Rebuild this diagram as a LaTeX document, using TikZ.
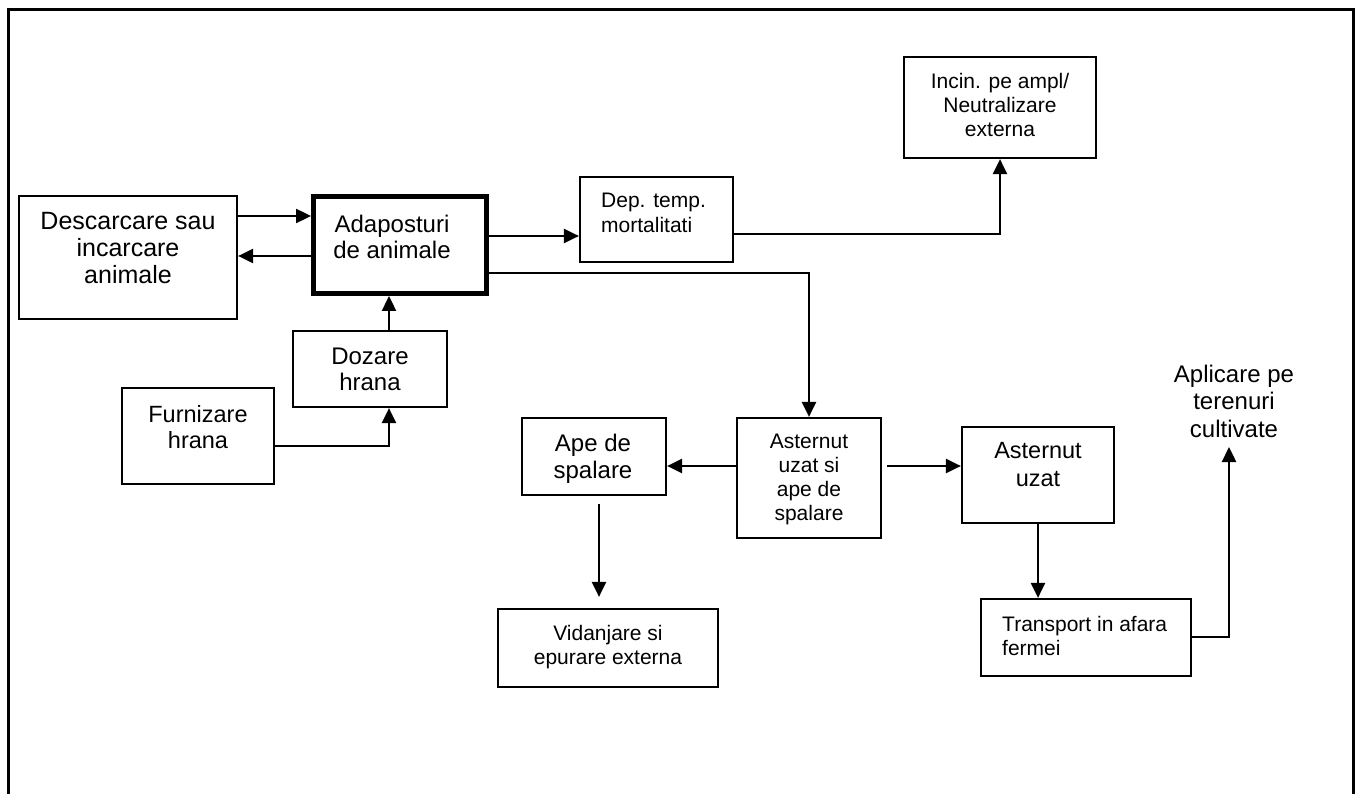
\documentclass[tikz,border=0pt]{standalone}
\usepackage{fontspec}
\setmainfont{Liberation Sans}
\usetikzlibrary{arrows.meta}
\newcommand\fsz[2]{\fontsize{#1}{#2}\selectfont}
\begin{document}
\begin{tikzpicture}[x=1pt,y=-1pt,
  box/.style={draw,line width=2.2pt,inner sep=0pt},
  thickbox/.style={draw,line width=5pt,inner sep=0pt},
  txt/.style={inner sep=0pt,align=center,anchor=base},
  txtl/.style={inner sep=0pt,align=left,anchor=base west},
  arr/.style={line width=2.4pt,-{Triangle[length=15pt,width=14pt]}}]
\useasboundingbox (0,0) rectangle (1358,794);
% frame
\draw[line width=3pt] (8,794) -- (8,10) -- (1353,10) -- (1353,794);
% boxes
\node[box,minimum width=218pt,minimum height=123pt] (desc) at (128,257.5) {};
\node[thickbox,minimum width=173pt,minimum height=97pt] (adap) at (400,245) {};
\node[box,minimum width=153pt,minimum height=85pt] (dep) at (656.5,219.5) {};
\node[box,minimum width=192pt,minimum height=101pt] (incin) at (1000,107.5) {};
\node[box,minimum width=154pt,minimum height=76pt] (doz) at (370,369) {};
\node[box,minimum width=152pt,minimum height=96pt] (furn) at (198,436) {};
\node[box,minimum width=144pt,minimum height=77pt] (apes) at (594,456.5) {};
\node[box,minimum width=144pt,minimum height=120pt] (asts) at (809,478) {};
\node[box,minimum width=152pt,minimum height=96pt] (astu) at (1038,475) {};
\node[box,minimum width=220pt,minimum height=78pt] (vid) at (608,648) {};
\node[box,minimum width=210pt,minimum height=77pt] (trans) at (1086,637.5) {};
% texts (anchor = baseline of last line)
\node[txt,font=\fsz{25}{27}] (descT) at (128,284) {Descarcare sau\\incarcare\\animale};
\node[txt,font=\fsz{24}{26}] (adapT) at (392,259) {Adaposturi\\de animale};
\node[txtl,font=\fsz{21}{25}] (depT) at (601,233) {Dep. temp.\\mortalitati};
\node[txt,font=\fsz{21}{24}] (incinT) at (1000,137) {Incin. pe ampl/\\Neutralizare\\externa};
\node[txt,font=\fsz{24}{26}] (dozT) at (370,391) {Dozare\\hrana};
\node[txt,font=\fsz{23.5}{26}] (furnT) at (198,448) {Furnizare\\hrana};
\node[txt,font=\fsz{24}{27}] (apesT) at (593,478) {Ape de\\spalare};
\node[txt,font=\fsz{21}{24}] (astsT) at (809,520) {Asternut\\uzat si\\ape de\\spalare};
\node[txt,font=\fsz{23.5}{28}] (astuT) at (1038,486) {Asternut\\uzat};
\node[txt,font=\fsz{21}{24}] (vidT) at (608,664) {Vidanjare si\\epurare externa};
\node[txtl,font=\fsz{21}{24}] (transT) at (1002,655) {Transport in afara\\fermei};
\node[txt,font=\fsz{24}{27.5}] (apl) at (1234,437) {Aplicare pe\\terenuri\\cultivate};
% helper coordinates
\coordinate (y216) at (0,216);
\coordinate (y256) at (0,256);
\coordinate (y236) at (0,236);
\coordinate (y234) at (0,234);
\coordinate (y273) at (0,273);
\coordinate (x389) at (389,0);
\coordinate (y446) at (0,446);
\coordinate (y466) at (0,466);
\coordinate (x1000) at (1000,0);
\coordinate (x809) at (809,0);
\coordinate (x599) at (599,0);
\coordinate (y637) at (0,637);
\coordinate (aplTip) at (1229,447);
% connectors
\draw[arr] (desc.east |- y216) -- (adap.west |- y216);
\draw[arr] (adap.west |- y256) -- (desc.east |- y256);
\draw[arr] (adap.east |- y236) -- (dep.west |- y236);
\draw[arr] (dep.east |- y234) -| (incin.south -| x1000);
\draw[arr] (adap.east |- y273) -| (asts.north -| x809);
\draw[arr] (doz.north -| x389) -- (adap.south -| x389);
\draw[arr] (furn.east |- y446) -| (doz.south -| x389);
\draw[arr] (asts.west |- y466) -- (apes.east |- y466);
\draw[arr] ([xshift=5pt]asts.east |- y466) -- (astu.west |- y466);
\draw[arr] ([yshift=-8pt]apes.south -| x599) -- ([yshift=11pt]vid.north -| x599);
\draw[arr] (astu.south) -- (trans.north -| astu.south);
\draw[arr] (trans.east |- y637) -| (aplTip);
\end{tikzpicture}
\end{document}
